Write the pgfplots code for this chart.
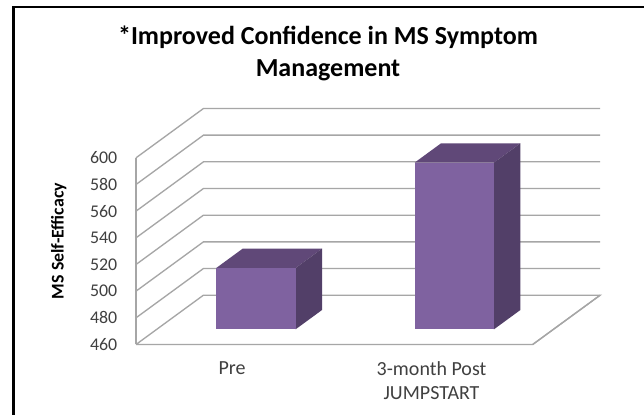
\documentclass[border=0pt]{standalone}
\usepackage{fontspec}
\setmainfont{Carlito}
\usepackage{pgfplots}
\pgfplotsset{compat=1.18}
\definecolor{gridc}{HTML}{A6A6A6}
\definecolor{front}{HTML}{7F62A0}
\definecolor{topc}{HTML}{604878}
\definecolor{sidec}{HTML}{523F68}
\definecolor{lab}{HTML}{404040}
\newcommand{\xf}{\fontsize{15}{18}\selectfont}
\begin{document}
\begin{tikzpicture}[x=1pt,y=1pt]
\useasboundingbox (0,0) rectangle (483,311.25);
\fill[white] (0,0) rectangle (483,311.25);
\draw[black,line width=1.7pt] (10.1,-3) -- (10.1,305.8) -- (486,305.8);
\node[font=\bfseries\fontsize{19.5}{24}\selectfont,align=center,text=black] at (246,271.5) {*Improved Confidence in MS Symptom\\Management};
\begin{axis}[
  at={(102pt,52.875pt)},anchor=south west,
  x={(148.76pt,0pt)},y={(50.6pt,37pt)},z={(0pt,1.0pt)},
  xmin=0,xmax=2,ymin=0,ymax=1,zmin=460,zmax=600,
  axis lines=left,
  axis line style={gridc,line width=1pt,-},
  clip=false,
  tick style={draw=none},
  major tick length=0pt,
  xtick={0.484,1.49},xticklabels={\xf Pre,{\xf 3-month Post\\\xf JUMPSTART}},
  xticklabel style={align=center,text=lab,font=\xf,anchor=north,yshift=-9pt},
  ytick=\empty,
  ztick={460,480,500,520,540,560,580,600},
  zticklabel style={text=lab,font=\fontsize{13.4}{15}\selectfont,anchor=east,xshift=-10.5pt},
  /pgf/number format/assume math mode=true,
  zlabel={},
]
\foreach \z in {480,500,520,540,560,580,600}{
  \addplot3[gridc,line width=1pt,forget plot] coordinates {(0,0,\z) (0,1,\z) (2,1,\z)};
}
\addplot3[gridc,line width=1pt,forget plot] coordinates {(0,0,460) (0,1,460) (2,1,460) (2,0,460) (0,0,460)};
% bar 1
\addplot3[fill=topc,draw=none] coordinates {(0.3,0.308,506) (0.7,0.308,506) (0.7,0.70,506) (0.3,0.70,506)} -- cycle;
\addplot3[fill=sidec,draw=none] coordinates {(0.7,0.308,460) (0.7,0.70,460) (0.7,0.70,506) (0.7,0.308,506)} -- cycle;
\addplot3[fill=front,draw=none] coordinates {(0.3,0.308,460) (0.7,0.308,460) (0.7,0.308,506) (0.3,0.308,506)} -- cycle;
% bar 2
\addplot3[fill=topc,draw=none] coordinates {(1.3,0.308,585) (1.7,0.308,585) (1.7,0.70,585) (1.3,0.70,585)} -- cycle;
\addplot3[fill=sidec,draw=none] coordinates {(1.7,0.308,460) (1.7,0.70,460) (1.7,0.70,585) (1.7,0.308,585)} -- cycle;
\addplot3[fill=front,draw=none] coordinates {(1.3,0.308,460) (1.7,0.308,460) (1.7,0.308,585) (1.3,0.308,585)} -- cycle;
\end{axis}
\node[rotate=90,font=\bfseries\fontsize{13.4}{15}\selectfont] at (44,130.5) {MS Self-Efficacy};
\end{tikzpicture}
\end{document}
